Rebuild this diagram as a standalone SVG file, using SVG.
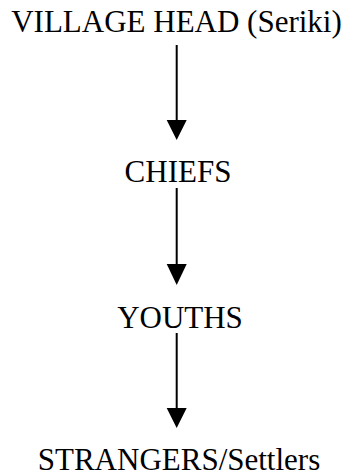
<svg xmlns="http://www.w3.org/2000/svg" width="352" height="476" viewBox="0 0 352 476">
<defs>
<style>
.t{font-family:"Liberation Serif","Times New Roman",serif;font-size:31px;fill:#000;text-anchor:middle}
.c{stroke:#000;stroke-width:2;fill:none}
.h{fill:#000}
</style>
</defs>
<rect width="352" height="476" fill="#fff"/>
<g id="n1"><text class="t" x="176.5" y="32">VILLAGE HEAD (Seriki)</text></g>
<g id="n2"><text class="t" x="178" y="182">CHIEFS</text></g>
<g id="n3"><text class="t" x="180" y="328">YOUTHS</text></g>
<g id="n4"><text class="t" x="179" y="470">STRANGERS/Settlers</text></g>
<g id="connectors">
<line class="c" x1="176.7" y1="45" x2="176.7" y2="122"/>
<path class="h" d="M166.7,120 L186.7,120 L176.7,140 Z"/>
<line class="c" x1="176.7" y1="188" x2="176.7" y2="266"/>
<path class="h" d="M166.7,264 L186.7,264 L176.7,285 Z"/>
<line class="c" x1="176.7" y1="333" x2="176.7" y2="410"/>
<path class="h" d="M166.7,408 L186.7,408 L176.7,428 Z"/>
</g>
</svg>
